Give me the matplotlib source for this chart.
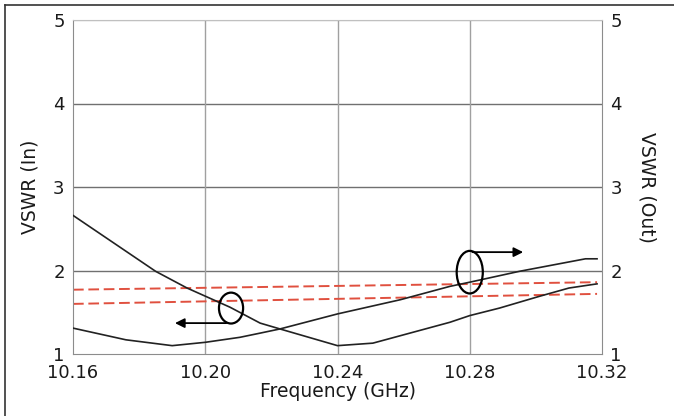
import numpy as np
import matplotlib.pyplot as plt
from matplotlib.patches import Ellipse

plt.rcParams['font.family'] = ['DejaVu Sans']

# VSWR (In) - left axis
freq_in = [10.160, 10.185, 10.1945, 10.2075, 10.2166, 10.2226, 10.240, 10.2507,
           10.274, 10.280, 10.289, 10.301, 10.310, 10.3185]
vswr_in = [2.66, 1.99, 1.79, 1.56, 1.37, 1.30, 1.10, 1.13,
           1.38, 1.46, 1.55, 1.69, 1.79, 1.84]

# VSWR (Out) - right axis
freq_out = [10.160, 10.176, 10.190, 10.200, 10.2105, 10.2166, 10.2226, 10.240,
            10.259, 10.274, 10.280, 10.295, 10.315, 10.3185]
vswr_out = [1.31, 1.17, 1.10, 1.14, 1.20, 1.25, 1.30, 1.48,
            1.65, 1.81, 1.86, 1.99, 2.14, 2.14]

# red dashed spec lines
spec_freq = [10.160, 10.3185]
spec_upper = [1.77, 1.86]
spec_lower = [1.60, 1.72]

xticks = [10.16, 10.20, 10.24, 10.28, 10.32]
yticks = [1, 2, 3, 4, 5]

fig = plt.figure(figsize=(6.74, 4.16), dpi=100)
ax = fig.add_axes([73/674, 62/416, 529/674, 334/416])

gcol = '#8c8c8c'
for v in [2, 3, 4]:
    ax.axhline(v, color='#707070', lw=1.0, zorder=1)
ax.axhline(5, color='#c0c0c0', lw=1.0, zorder=1)
for f in [10.20, 10.24, 10.28]:
    ax.axvline(f, color='#a0a0a0', lw=1.0, zorder=1)

ax.plot(spec_freq, spec_upper, color='#e0503f', lw=1.4, dashes=(5.5, 2.4), zorder=2)
ax.plot(spec_freq, spec_lower, color='#e0503f', lw=1.4, dashes=(5.5, 2.4), zorder=2)
ax.plot(freq_in, vswr_in, color='#222222', lw=1.2, zorder=3)
ax.plot(freq_out, vswr_out, color='#222222', lw=1.2, zorder=3)

# ellipses + arrows
ax.add_patch(Ellipse((10.2078, 1.55), 0.0073, 0.37, fill=False, ec='black', lw=1.6, zorder=4))
ax.annotate('', xy=(10.1900, 1.37), xytext=(10.2072, 1.37),
            arrowprops=dict(arrowstyle='-|>', color='black', lw=1.3, mutation_scale=14))
ax.add_patch(Ellipse((10.280, 1.98), 0.0079, 0.51, fill=False, ec='black', lw=1.6, zorder=4))
ax.annotate('', xy=(10.2970, 2.22), xytext=(10.2800, 2.22),
            arrowprops=dict(arrowstyle='-|>', color='black', lw=1.3, mutation_scale=14))

ax.set_xlim(10.16, 10.32)
ax.set_ylim(1, 5)
ax.set_xticks(xticks)
ax.set_xticklabels(['%.2f' % x for x in xticks])
ax.set_yticks(yticks)
ax.tick_params(length=0, labelsize=13, colors='#1a1a1a')
ax.tick_params(axis='x', pad=7)
ax.tick_params(axis='y', pad=6)
for s in ax.spines.values():
    s.set_color(gcol)
ax.spines['top'].set_color('#c0c0c0')
ax.set_xlabel('Frequency (GHz)', fontsize=13.5, color='#1a1a1a', labelpad=0)
ax.set_ylabel('VSWR (In)', fontsize=13.5, color='#1a1a1a', labelpad=10)

ax2 = ax.twinx()
ax2.set_ylim(1, 5)
ax2.set_yticks(yticks)
ax2.tick_params(length=0, labelsize=13, colors='#1a1a1a', pad=6)
for s in ax2.spines.values():
    s.set_visible(False)
ax2.set_ylabel('VSWR (Out)', fontsize=13.5, color='#1a1a1a', rotation=270, labelpad=25)

# outer frame (left + top)
fig.add_artist(plt.Line2D([5/674, 5/674], [0, 1 - 5/416], color='#333333', lw=1.2))
fig.add_artist(plt.Line2D([5/674, 1], [1 - 5/416, 1 - 5/416], color='#333333', lw=1.2))

fig.savefig('out.png', dpi=100)
